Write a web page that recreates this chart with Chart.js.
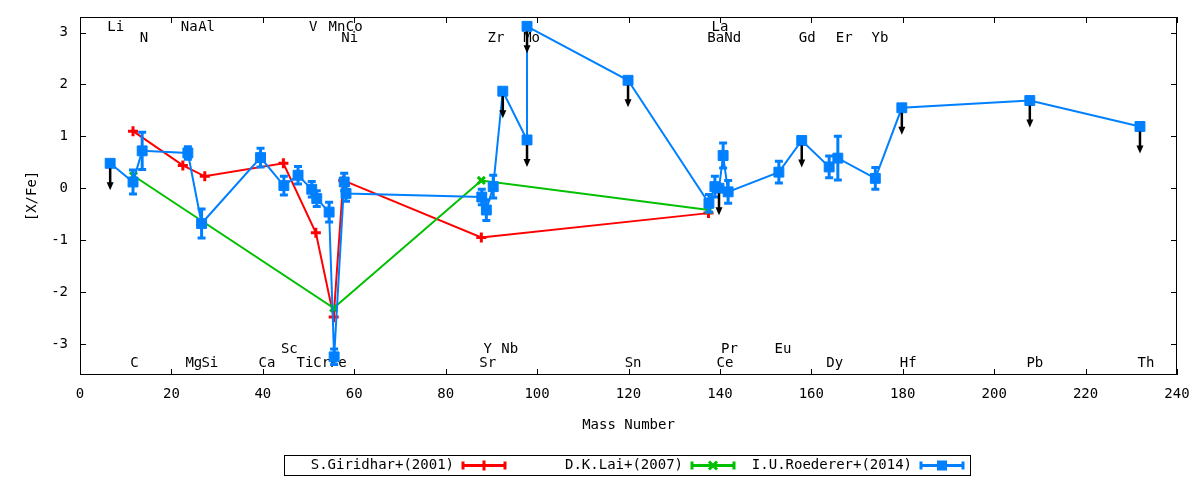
<!DOCTYPE html>
<html lang="en">
<head>
<meta charset="UTF-8">
<title>[X/Fe] vs Mass Number</title>
<script src="https://cdn.jsdelivr.net/npm/chart.js"></script>
<style>
  body { margin: 0; background: #fff; }
  #wrap { width: 1200px; height: 480px; }
</style>
</head>
<body>
<div id="wrap"><canvas id="abundChart"></canvas></div>
<script>
// S.Giridhar+(2001)
var giriMass = [11.6, 22.5, 27.3, 44.5, 51.6, 55.5, 57.6, 87.8, 137.5];
var giriVal  = [1.10, 0.44, 0.23, 0.48, -0.86, -2.48, 0.15, -0.95, -0.48];

// D.K.Lai+(2007)
var laiMass = [11.7, 55.5, 87.8, 137.6];
var laiVal  = [0.24, -2.31, 0.15, -0.42];

// I.U.Roederer+(2014), err = half length of error bar, upper = 1 for upper limits
var roedMass  = [6.6, 11.6, 13.6, 23.6, 26.6, 39.5, 44.6, 47.7, 50.7, 51.8, 54.5, 55.6, 57.8, 58.2,
                 87.9, 88.9, 90.4, 92.5, 97.8, 97.8, 119.9, 137.6, 138.9, 139.8, 140.7, 141.8,
                 152.9, 157.9, 163.9, 165.8, 174.0, 179.8, 207.8, 231.9];
var roedVal   = [0.48, 0.12, 0.72, 0.68, -0.68, 0.59, 0.05, 0.25, -0.02, -0.20, -0.46, -3.25, 0.12, -0.10,
                 -0.17, -0.42, 0.03, 1.87, 0.93, 3.12, 2.08, -0.29, 0.03, 0.00, 0.63, -0.07,
                 0.31, 0.92, 0.41, 0.58, 0.19, 1.55, 1.69, 1.19];
var roedErr   = [0, 0.23, 0.36, 0.12, 0.28, 0.18, 0.18, 0.17, 0.15, 0.15, 0.19, 0.15, 0.17, 0.15,
                 0.15, 0.20, 0.22, 0, 0, 0, 0, 0.17, 0.20, 0, 0.24, 0.22,
                 0.21, 0, 0.21, 0.42, 0.21, 0, 0, 0];
var roedUpper = [1, 0, 0, 0, 0, 0, 0, 0, 0, 0, 0, 0, 0, 0,
                 0, 0, 0, 1, 1, 1, 1, 0, 0, 1, 0, 0,
                 0, 1, 0, 0, 0, 1, 1, 1];

// element names written along the top and bottom of the plot
var elemNames = ['Li', 'C', 'N', 'Na', 'Mg', 'Al', 'Si', 'Ca', 'Sc', 'Ti', 'V', 'Cr', 'Mn', 'Fe', 'Ni', 'Co',
                 'Sr', 'Y', 'Zr', 'Nb', 'Mo', 'Sn', 'Ba', 'La', 'Ce', 'Pr', 'Nd', 'Eu', 'Gd', 'Dy', 'Er', 'Yb',
                 'Hf', 'Pb', 'Th'];
var elemMass  = [7.8, 11.9, 14.0, 23.9, 24.9, 27.7, 28.4, 40.9, 45.8, 49.2, 51.0, 52.9, 56.2, 56.5, 59.0, 60.0,
                 89.2, 89.2, 91.0, 94.0, 98.8, 121.0, 139.1, 140.0, 141.1, 142.1, 142.8, 153.8, 159.1, 165.1, 167.2, 175.0,
                 181.2, 208.9, 233.2];
var elemRow   = [3.1, -3.37, 2.88, 3.1, -3.37, 3.1, -3.37, -3.37, -3.1, -3.37, 3.1, -3.37, 3.1, -3.37, 2.88, 3.1,
                 -3.37, -3.1, 2.88, -3.1, 2.88, -3.37, 2.88, 3.1, -3.37, -3.1, 2.88, -3.1, 2.88, -3.37, 2.88, 2.88,
                 -3.37, -3.37, -3.37];

var xTicks = [0, 20, 40, 60, 80, 100, 120, 140, 160, 180, 200, 220, 240];
var yTicks = [-3, -2, -1, 0, 1, 2, 3];

var FONT = '14px "DejaVu Sans Mono", monospace';
var RED = '#ff0000', GREEN = '#00c000', BLUE = '#0080ff';

function toPoints(xs, ys) {
    return xs.map(function (x, i) { return { x: x, y: ys[i] }; });
}

function drawMarker(ctx, style, color, x, y) {
    ctx.save();
    ctx.strokeStyle = color;
    ctx.fillStyle = color;
    ctx.lineWidth = 3;
    ctx.beginPath();
    if (style === 'cross') {
        ctx.moveTo(x - 5, y); ctx.lineTo(x + 5, y);
        ctx.moveTo(x, y - 5); ctx.lineTo(x, y + 5);
        ctx.stroke();
    } else if (style === 'crossRot') {
        ctx.moveTo(x - 4, y - 4); ctx.lineTo(x + 4, y + 4);
        ctx.moveTo(x + 4, y - 4); ctx.lineTo(x - 4, y + 4);
        ctx.stroke();
    } else {
        ctx.fillRect(x - 5, y - 5, 10, 10);
    }
    ctx.restore();
}

var framePlugin = {
    id: 'framePlugin',
    beforeDatasetsDraw: function (chart) {
        var ctx = chart.ctx, xs = chart.scales.x, ys = chart.scales.y;
        ctx.save();
        ctx.font = FONT;
        ctx.fillStyle = '#000';
        ctx.textAlign = 'center';
        ctx.textBaseline = 'middle';
        elemNames.forEach(function (name, i) {
            ctx.fillText(name, xs.getPixelForValue(elemMass[i]), ys.getPixelForValue(elemRow[i]));
        });
        ctx.restore();
    },
    afterDatasetDraw: function (chart, args) {
        if (args.index !== 2) return;
        var ctx = chart.ctx, xs = chart.scales.x, ys = chart.scales.y;
        ctx.save();
        ctx.strokeStyle = BLUE;
        ctx.lineWidth = 3;
        roedMass.forEach(function (m, i) {
            if (!roedErr[i]) return;
            var x = xs.getPixelForValue(m);
            var y1 = ys.getPixelForValue(roedVal[i] - roedErr[i]);
            var y2 = ys.getPixelForValue(roedVal[i] + roedErr[i]);
            ctx.beginPath();
            ctx.moveTo(x, y1); ctx.lineTo(x, y2);
            ctx.moveTo(x - 4, y1); ctx.lineTo(x + 4, y1);
            ctx.moveTo(x - 4, y2); ctx.lineTo(x + 4, y2);
            ctx.stroke();
        });
        ctx.restore();
    },
    afterDatasetsDraw: function (chart) {
        var ctx = chart.ctx, xs = chart.scales.x, ys = chart.scales.y, a = chart.chartArea;
        // upper limit arrows
        ctx.save();
        ctx.strokeStyle = '#000';
        ctx.fillStyle = '#000';
        ctx.lineWidth = 2.5;
        roedMass.forEach(function (m, i) {
            if (!roedUpper[i]) return;
            var x = xs.getPixelForValue(m);
            var y0 = ys.getPixelForValue(roedVal[i]) + 5;
            var y1 = ys.getPixelForValue(roedVal[i] - 0.52);
            ctx.beginPath();
            ctx.moveTo(x, y0); ctx.lineTo(x, y1 - 6);
            ctx.stroke();
            ctx.beginPath();
            ctx.moveTo(x, y1); ctx.lineTo(x - 3.5, y1 - 8); ctx.lineTo(x + 3.5, y1 - 8);
            ctx.closePath();
            ctx.fill();
        });
        ctx.restore();

        // border and inward ticks on all four sides
        ctx.save();
        ctx.strokeStyle = '#000';
        ctx.lineWidth = 1;
        ctx.strokeRect(a.left + 0.5, a.top + 0.5, a.right - a.left - 1, a.bottom - a.top - 1);
        ctx.beginPath();
        xTicks.forEach(function (t) {
            var x = Math.round(xs.getPixelForValue(t)) + 0.5;
            ctx.moveTo(x, a.bottom); ctx.lineTo(x, a.bottom - 6);
            ctx.moveTo(x, a.top); ctx.lineTo(x, a.top + 6);
        });
        yTicks.forEach(function (t) {
            var y = Math.round(ys.getPixelForValue(t)) + 0.5;
            ctx.moveTo(a.left, y); ctx.lineTo(a.left + 6, y);
            ctx.moveTo(a.right, y); ctx.lineTo(a.right - 6, y);
        });
        ctx.stroke();
        ctx.restore();
    },
    afterDraw: function (chart) {
        var ctx = chart.ctx, a = chart.chartArea;
        ctx.save();
        ctx.font = FONT;
        ctx.fillStyle = '#000';
        ctx.textBaseline = 'middle';
        // axis titles
        ctx.textAlign = 'center';
        ctx.fillText('Mass Number', (a.left + a.right) / 2, 425);
        ctx.save();
        ctx.translate(32, (a.top + a.bottom) / 2);
        ctx.rotate(-Math.PI / 2);
        ctx.fillText('[X/Fe]', 0, 0);
        ctx.restore();

        // legend box
        ctx.strokeStyle = '#000';
        ctx.lineWidth = 1;
        ctx.strokeRect(284.5, 455.5, 686, 20);
        var entries = [
            { text: 'S.Giridhar+(2001)', color: RED, style: 'cross', right: 454 },
            { text: 'D.K.Lai+(2007)', color: GREEN, style: 'crossRot', right: 683 },
            { text: 'I.U.Roederer+(2014)', color: BLUE, style: 'rect', right: 912 }
        ];
        entries.forEach(function (e) {
            var y = 465.5, x0 = e.right + 9, x1 = e.right + 51;
            ctx.fillStyle = '#000';
            ctx.textAlign = 'right';
            ctx.fillText(e.text, e.right, y);
            ctx.strokeStyle = e.color;
            ctx.lineWidth = 3;
            ctx.beginPath();
            ctx.moveTo(x0, y); ctx.lineTo(x1, y);
            ctx.moveTo(x0, y - 4); ctx.lineTo(x0, y + 4);
            ctx.moveTo(x1, y - 4); ctx.lineTo(x1, y + 4);
            ctx.stroke();
            drawMarker(ctx, e.style, e.color, (x0 + x1) / 2, y);
        });
        ctx.restore();
    }
};

var ctx = document.getElementById('abundChart').getContext('2d');
var abundChart = new Chart(ctx, {
    type: 'scatter',
    data: {
        datasets: [{
            label: 'S.Giridhar+(2001)',
            data: toPoints(giriMass, giriVal),
            showLine: true,
            borderColor: RED,
            backgroundColor: RED,
            borderWidth: 2,
            pointStyle: 'cross',
            pointRadius: 5,
            pointBorderWidth: 3,
            order: 3
        }, {
            label: 'D.K.Lai+(2007)',
            data: toPoints(laiMass, laiVal),
            showLine: true,
            borderColor: GREEN,
            backgroundColor: GREEN,
            borderWidth: 2,
            pointStyle: 'crossRot',
            pointRadius: 5,
            pointBorderWidth: 3,
            order: 2
        }, {
            label: 'I.U.Roederer+(2014)',
            data: toPoints(roedMass, roedVal),
            showLine: true,
            borderColor: BLUE,
            backgroundColor: BLUE,
            borderWidth: 2,
            pointStyle: 'rect',
            pointRadius: 7,
            pointBorderWidth: 1,
            order: 1
        }]
    },
    options: {
        responsive: true,
        maintainAspectRatio: false,
        animation: false,
        events: [],
        layout: { padding: { left: 0, right: 23, top: 17, bottom: 0 } },
        plugins: {
            legend: { display: false },
            tooltip: { enabled: false }
        },
        scales: {
            x: {
                type: 'linear',
                min: 0,
                max: 240,
                afterBuildTicks: function (s) { s.ticks = xTicks.map(function (v) { return { value: v }; }); },
                afterFit: function (s) { s.height = 105; s.paddingLeft = 0; s.paddingRight = 0; },
                grid: { display: false, drawTicks: false },
                border: { display: false },
                ticks: { font: { family: '"DejaVu Sans Mono", monospace', size: 14 }, color: '#000', padding: 11, maxRotation: 0, autoSkip: false }
            },
            y: {
                type: 'linear',
                min: -3.6,
                max: 3.3,
                afterBuildTicks: function (s) { s.ticks = yTicks.map(function (v) { return { value: v }; }); },
                afterFit: function (s) { s.width = 80; s.paddingTop = 0; s.paddingBottom = 0; },
                grid: { display: false, drawTicks: false },
                border: { display: false },
                ticks: { font: { family: '"DejaVu Sans Mono", monospace', size: 14 }, color: '#000', padding: 12, autoSkip: false }
            }
        }
    },
    plugins: [framePlugin]
});
</script>
</body>
</html>
